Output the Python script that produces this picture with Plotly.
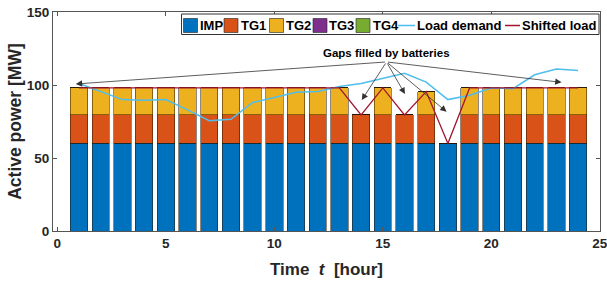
import plotly.graph_objects as go

# ---------------- data ----------------
hours = list(range(1, 25))
imp = [60, 60, 60, 60, 60, 60, 60, 60, 60, 60, 60, 60,
       60, 60, 60, 60, 60, 60, 60, 60, 60, 60, 60, 60]
tg1 = [19.5, 19.5, 19.5, 19.5, 19.5, 19.5, 19.5, 19.5, 19.5, 19.5, 19.5, 19.5,
       19.5, 19.5, 19.5, 19.5, 19.5, 0, 19.5, 19.5, 19.5, 19.5, 19.5, 19.5]
tg2 = [18.5, 18.5, 18.5, 18.5, 18.5, 18.5, 18.5, 18.5, 18.5, 18.5, 18.5, 18.5,
       18.5, 0, 18.5, 0, 16, 0, 18.5, 18.5, 18.5, 18.5, 18.5, 18.5]
tg3 = [0] * 24
tg4 = [0] * 24
load_demand = [101, 95.5, 90, 89.5, 90, 83, 75.5, 76.5, 88, 91.5, 95, 95.5,
               99, 101, 104.5, 108, 102, 90, 93, 98, 97.5, 107, 111, 110]
shifted_load = [98, 98, 98, 98, 98, 98, 98, 98, 98, 98, 98, 98,
                98, 79.5, 98, 79.5, 95.5, 60, 98, 98, 98, 98, 98, 98]

x_ticks = [0, 5, 10, 15, 20, 25]
y_ticks = [0, 50, 100, 150]

legend_names = ["IMP", "TG1", "TG2", "TG3", "TG4", "Load demand", "Shifted load"]
colors = ["#0072BD", "#D95319", "#EDB120", "#7E2F8E", "#77AC30", "#4DBEEE", "#A2142F"]

note_text = "Gaps filled by batteries"
note_pos = (15.15, 122)
arrow_origin = (15.17, 115.8)
arrow_tips = [(0.85, 100.7), (23.24, 101.8), (14.03, 89.7), (16.02, 93.8), (17.94, 81.7)]

# ---------------- figure ----------------
W, H = 607, 286
ML, MR, MT, MB = 53, 7, 12, 55
PW, PH = W - ML - MR, H - MT - MB

FONT = "Liberation Sans, Arial, sans-serif"

fig = go.Figure()
bar_series = [imp, tg1, tg2, tg3, tg4]
for name, vals, col in zip(legend_names[:5], bar_series, colors[:5]):
    fig.add_trace(go.Bar(
        x=hours, y=vals, name=name, width=0.8,
        marker=dict(color=col, line=dict(color="rgba(40,20,0,0.85)", width=0.6)),
        showlegend=False))

fig.add_trace(go.Scatter(x=hours, y=load_demand, mode="lines", name="Load demand",
                         line=dict(color=colors[5], width=1.5), showlegend=False))
fig.add_trace(go.Scatter(x=hours, y=shifted_load, mode="lines", name="Shifted load",
                         line=dict(color=colors[6], width=1.3), showlegend=False))

annotations = []
shapes = []

# arrows
for tx, ty in arrow_tips:
    annotations.append(dict(
        x=tx, y=ty, xref="x", yref="y", ax=arrow_origin[0], ay=arrow_origin[1],
        axref="x", ayref="y", text="", showarrow=True, arrowhead=2, arrowsize=1.6,
        arrowwidth=0.8, arrowcolor="#333333"))
annotations.append(dict(
    x=note_pos[0], y=note_pos[1], xref="x", yref="y", text=note_text, showarrow=False,
    font=dict(family=FONT, size=11.5, color="black", weight="bold")))


def px(xp):
    return (xp - ML) / PW


def py(yp):
    return (MT + PH - yp) / PH


# manual legend (MATLAB style)
shapes.append(dict(type="rect", xref="paper", yref="paper",
                   x0=px(181.5), x1=px(599), y0=py(34.5), y1=py(14),
                   fillcolor="white", line=dict(color="#333333", width=1), layer="above"))
sq_x = [183.5, 224, 269.5, 313, 356]
txt_x = [199, 240, 284.5, 328, 371.5]
yc = 25.5
for i in range(5):
    shapes.append(dict(type="rect", xref="paper", yref="paper",
                       x0=px(sq_x[i]), x1=px(sq_x[i] + 14), y0=py(yc + 7), y1=py(yc - 7),
                       fillcolor=colors[i], line=dict(color="#222222", width=0.6),
                       layer="above"))
    annotations.append(dict(x=px(txt_x[i]), y=py(yc), xref="paper", yref="paper",
                            xanchor="left", yanchor="middle", text=legend_names[i],
                            showarrow=False, borderpad=0,
                            font=dict(family=FONT, size=13, color="black", weight="bold")))
line_x = [(398, 415, 416), (505, 520, 521)]
for j, (a, b, t) in enumerate(line_x):
    shapes.append(dict(type="line", xref="paper", yref="paper",
                       x0=px(a), x1=px(b), y0=py(yc), y1=py(yc),
                       line=dict(color=colors[5 + j], width=1.5), layer="above"))
    annotations.append(dict(x=px(t), y=py(yc), xref="paper", yref="paper",
                            xanchor="left", yanchor="middle", text=legend_names[5 + j],
                            showarrow=False, borderpad=0,
                            font=dict(family=FONT, size=13, color="black", weight="bold")))

axis_common = dict(showline=True, linecolor="#555555", linewidth=1, mirror="ticks",
                   ticks="inside", ticklen=4, tickcolor="#555555", showgrid=False,
                   zeroline=False, automargin=False, ticklabeloverflow="allow",
                   tickfont=dict(family=FONT, size=13.5, color="#262626", weight="bold"))

fig.update_layout(
    width=W, height=H, margin=dict(l=ML, r=MR, t=MT, b=MB, autoexpand=False),
    barmode="stack", bargap=0.2,
    paper_bgcolor="white", plot_bgcolor="white",
    showlegend=False,
    xaxis=dict(range=[-0.2, 25.01], tickvals=x_ticks, **axis_common,
               title=dict(text="Time\u00a0\u00a0<i>t</i>\u00a0\u00a0[hour]", standoff=12,
                          font=dict(family=FONT, size=17, color="#262626", weight="bold"))),
    yaxis=dict(range=[0, 150], tickvals=y_ticks, **axis_common,
               title=dict(text="Active power [MW]", standoff=0,
                          font=dict(family=FONT, size=17.5, color="#262626", weight="bold"))),
    annotations=annotations, shapes=shapes,
)

fig.write_html("out.html",
               config={"displayModeBar": False, "staticPlot": True},
               post_script="document.body.style.margin='0px';"
                           "document.body.style.overflow='hidden';")
